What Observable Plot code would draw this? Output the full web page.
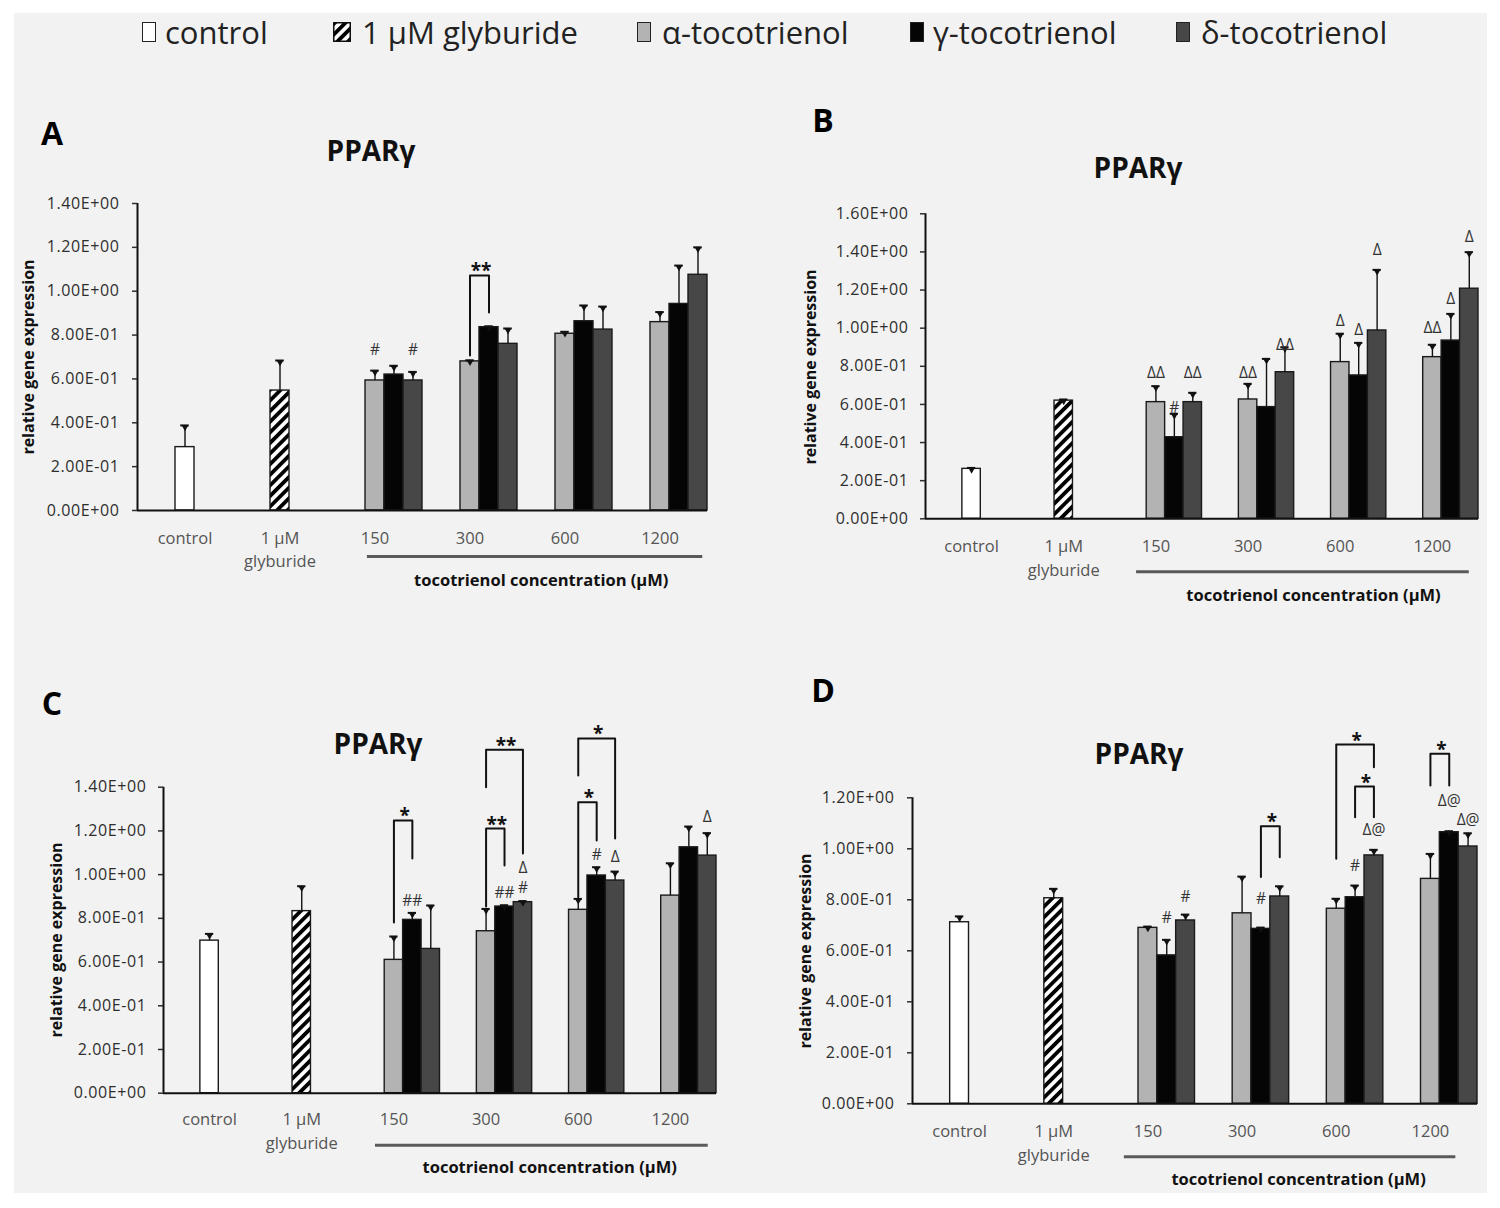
<!DOCTYPE html>
<html><head><meta charset="utf-8">
<script src="https://cdn.jsdelivr.net/npm/d3@7"></script>
<script src="https://cdn.jsdelivr.net/npm/@observablehq/plot@0.6"></script>
<style>
body{margin:0;background:#fff;width:1500px;height:1208px;position:relative;overflow:hidden;font-family:"Open Sans",sans-serif;}
#bg{position:absolute;left:14px;top:13px;width:1473px;height:1180px;background:#f2f2f2;}
.abs{position:absolute;white-space:nowrap;}
.letter{font-weight:700;font-size:32px;color:#000;transform:translate(-50%,-50%);line-height:1;}
.title{font-weight:700;font-size:28px;color:#111;transform:translate(-50%,-50%);line-height:1;}
.ylab{font-weight:700;font-size:16px;color:#111;transform:translate(-50%,-50%) rotate(-90deg);line-height:1;}
.legtext{font-size:31px;color:#222;line-height:40px;top:12px;}
.sw{top:22px;width:14px;height:20px;box-sizing:border-box;border:1.5px solid #222;}
[aria-label="y-axis tick label"] text{letter-spacing:0.6px;}
[aria-label="bracket label"] text{letter-spacing:3px;}
</style></head>
<body>
<div id="bg"></div>
<svg width="0" height="0" style="position:absolute;left:0;top:0">
 <defs>
  <pattern id="hatch" patternUnits="userSpaceOnUse" width="7.5" height="7.5" patternTransform="rotate(45)">
   <rect width="7.5" height="7.5" fill="#fff"></rect><rect width="3.8" height="7.5" fill="#000"></rect>
  </pattern>
 </defs>
</svg>
<div id="root"></div>
<script>
// ---------- shared categories ----------
const categories = ["control", "1 µM\nglyburide", "150", "300", "600", "1200"];
const concentrations = ["150", "300", "600", "1200"];
const legendLabels = ["control", "1 µM glyburide", "α-tocotrienol", "γ-tocotrienol", "δ-tocotrienol"];
const axisTitle = "tocotrienol concentration (µM)";
const yTitle = "relative gene expression";
const panelTitle = "PPARγ";

// ---------- Panel A ----------
const A_ticks = [0, 0.2, 0.4, 0.6, 0.8, 1.0, 1.2, 1.4];
const A_control = [0.289, 0.099];      // mean, error
const A_glyburide = [0.547, 0.137];
const A_alpha = [0.593, 0.680, 0.806, 0.859];
const A_alphaErr = [0.045, 0.005, 0.009, 0.046];
const A_gamma = [0.620, 0.836, 0.863, 0.942];
const A_gammaErr = [0.040, 0.004, 0.072, 0.175];
const A_delta = [0.593, 0.760, 0.825, 1.075];
const A_deltaErr = [0.039, 0.070, 0.105, 0.125];
const A_notes = [["150", "α", 0.73, "#"], ["150", "δ", 0.73, "#"]];
const A_brackets = [["300", "α", "γ", 1.072, 0.707, 0.903, "**"]];

// ---------- Panel B ----------
const B_ticks = [0, 0.2, 0.4, 0.6, 0.8, 1.0, 1.2, 1.4, 1.6];
const B_control = [0.262, 0.005];
const B_glyburide = [0.620, 0.006];
const B_alpha = [0.612, 0.626, 0.822, 0.848];
const B_alphaErr = [0.084, 0.082, 0.149, 0.065];
const B_gamma = [0.428, 0.586, 0.752, 0.935];
const B_gammaErr = [0.123, 0.253, 0.171, 0.140];
const B_delta = [0.612, 0.769, 0.988, 1.207];
const B_deltaErr = [0.049, 0.131, 0.318, 0.192];
const B_notes = [
  ["150", "α", 0.763, "ΔΔ"], ["150", "γ", 0.58, "#"], ["150", "δ", 0.763, "ΔΔ"],
  ["300", "α", 0.763, "ΔΔ"], ["300", "δ", 0.91, "ΔΔ"],
  ["600", "α", 1.04, "Δ"], ["600", "γ", 0.988, "Δ"], ["600", "δ", 1.408, "Δ"],
  ["1200", "α", 0.999, "ΔΔ"], ["1200", "γ", 1.151, "Δ"], ["1200", "δ", 1.477, "Δ"]
];
const B_brackets = [];

// ---------- Panel C ----------
const C_ticks = [0, 0.2, 0.4, 0.6, 0.8, 1.0, 1.2, 1.4];
const C_control = [0.698, 0.031];
const C_glyburide = [0.833, 0.114];
const C_alpha = [0.610, 0.741, 0.839, 0.904];
const C_alphaErr = [0.107, 0.102, 0.050, 0.148];
const C_gamma = [0.793, 0.854, 0.996, 1.125];
const C_gammaErr = [0.032, 0.006, 0.038, 0.095];
const C_delta = [0.660, 0.874, 0.973, 1.087];
const C_deltaErr = [0.199, 0.005, 0.041, 0.103];
const C_notes = [
  ["150", "γ", 0.881, "##"],
  ["300", "γ", 0.914, "##"], ["300", "δ", 0.937, "#"], ["300", "δ", 1.028, "Δ"],
  ["600", "γ", 1.088, "#"], ["600", "δ", 1.080, "Δ"],
  ["1200", "δ", 1.263, "Δ"]
];
const C_brackets = [
  ["150", "α", "γ", 1.248, 0.781, 1.074, "*"],
  ["300", "α", "γ", 1.211, 0.854, 1.042, "**"],
  ["300", "α", "δ", 1.571, 1.400, 1.097, "**"],
  ["600", "α", "γ", 1.331, 0.897, 1.156, "*"],
  ["600", "α", "δ", 1.623, 1.453, 1.165, "*"]
];

// ---------- Panel D ----------
const D_ticks = [0, 0.2, 0.4, 0.6, 0.8, 1.0, 1.2];
const D_control = [0.712, 0.023];
const D_glyburide = [0.806, 0.037];
const D_alpha = [0.690, 0.747, 0.765, 0.882];
const D_alphaErr = [0.005, 0.144, 0.039, 0.098];
const D_gamma = [0.582, 0.686, 0.810, 1.065];
const D_gammaErr = [0.061, 0.005, 0.046, 0.004];
const D_delta = [0.719, 0.813, 0.974, 1.009];
const D_deltaErr = [0.023, 0.040, 0.022, 0.052];
const D_notes = [
  ["150", "γ", 0.727, "#"], ["150", "δ", 0.81, "#"],
  ["300", "γ", 0.804, "#"],
  ["600", "γ", 0.934, "#"], ["600", "δ", 1.072, "Δ@"],
  ["1200", "γ", 1.189, "Δ@"], ["1200", "δ", 1.111, "Δ@"]
];
const D_brackets = [
  ["300", "γ", "δ", 1.088, 0.889, 0.967, "*"],
  ["600", "α", "δ", 1.409, 0.961, 1.320, "*"],
  ["600", "γ", "δ", 1.244, 1.124, 1.124, "*"],
  ["1200", "α", "γ", 1.373, 1.248, 1.248, "*"]
];

// ---------- styling ----------
const seriesOffset = {"α": 0, "γ": 0.2, "δ": 0.4};
const barWidth = 0.2;
const fills = {control: "#ffffff", glyb: "url(#hatch)", "α": "#b3b3b3", "γ": "#050505", "δ": "#474747"};
const fmt = d => {
  const [m, e] = d.toExponential(2).split("e");
  return m + "E" + (+e < 0 ? "-" : "+") + String(Math.abs(+e)).padStart(2, "0");
};

function drawPanel(c) {
  const bars = [
    {x: 0, y: c.control[0], e: c.control[1], k: "control"},
    {x: 1, y: c.glyb[0], e: c.glyb[1], k: "glyb"}
  ];
  concentrations.forEach((_, i) => {
    bars.push({x: 2 + i + seriesOffset["α"], y: c.alpha[i], e: c.alphaErr[i], k: "α"});
    bars.push({x: 2 + i + seriesOffset["γ"], y: c.gamma[i], e: c.gammaErr[i], k: "γ"});
    bars.push({x: 2 + i + seriesOffset["δ"], y: c.delta[i], e: c.deltaErr[i], k: "δ"});
  });
  const xOf = (conc, s) => 2 + concentrations.indexOf(conc) + seriesOffset[s];
  const brPts = c.brackets.flatMap((b, j) => {
    const xa = xOf(b[0], b[1]), xb = xOf(b[0], b[2]);
    return [{x: xa, y: b[4], z: j}, {x: xa, y: b[3], z: j}, {x: xb, y: b[3], z: j}, {x: xb, y: b[5], z: j}];
  });
  const marks = [];
  for (const k of Object.keys(fills)) {
    marks.push(Plot.rectY(bars.filter(d => d.k === k), {
      x1: d => d.x - barWidth / 2, x2: d => d.x + barWidth / 2, y1: 0, y2: "y",
      fill: fills[k], stroke: "#1a1a1a", strokeWidth: 1.4
    }));
  }
  marks.push(
    Plot.ruleX(bars, {x: "x", y1: "y", y2: d => d.y + d.e, stroke: "#111", strokeWidth: 1.4}),
    Plot.ruleY(bars, {y: d => d.y + d.e, x1: d => d.x - 0.045, x2: d => d.x + 0.045, stroke: "#111", strokeWidth: 2}),
    Plot.dot(bars, {x: "x", y: d => d.y + d.e, symbol: "triangle", rotate: 180, r: 2.4, fill: "#111", dy: 2}),
    Plot.ruleY([0], {stroke: "#111", strokeWidth: 2}),
    Plot.ruleX([-0.5], {stroke: "#111", strokeWidth: 2}),
    Plot.axisY(c.ticks, {tickFormat: fmt, tickSize: 5, tickPadding: c.tickPad, fontSize: 16, color: "#2e2e2e", strokeWidth: 1.5, label: null}),
    Plot.text(categories.map((_, i) => i), {
      x: d => d, frameAnchor: "bottom", text: d => categories[d], lineAnchor: "top",
      dy: c.catDy, fontSize: 16.5, fill: "#555", lineHeight: 1.45
    }),
    Plot.ruleY([0], {x1: c.line[0], x2: c.line[1], dy: c.line[2], stroke: "#5a5a5a", strokeWidth: 3}),
    Plot.text([axisTitle], {x: c.label[0], frameAnchor: "bottom", dy: c.label[1], text: d => d,
      fontSize: 16.5, fontWeight: "bold", fill: "#111"}),
    Plot.text(c.notes, {x: d => xOf(d[0], d[1]), y: d => d[2], text: d => d[3], fontSize: 15.5, fill: "#333"}),
    Plot.line(brPts, {x: "x", y: "y", z: "z", stroke: "#111", strokeWidth: 2}),
    Plot.text(c.brackets, {x: d => (xOf(d[0], d[1]) + xOf(d[0], d[2])) / 2, y: d => d[3], text: d => d[6],
      lineAnchor: "bottom", dy: 2, dx: 1.5, fontSize: 19, fontWeight: "bold", fill: "#111", ariaLabel: "bracket label"})
  );
  const svg = Plot.plot({
    width: c.w, height: c.h,
    marginLeft: c.mL, marginRight: c.mR, marginTop: c.mT, marginBottom: c.mB,
    x: {type: "linear", domain: [-0.5, 5.5], axis: null},
    y: {domain: [0, c.yMax], axis: null},
    style: {background: "transparent", overflow: "visible", fontFamily: "'Open Sans', sans-serif"},
    marks
  });
  svg.style.position = "absolute";
  svg.style.left = c.left + "px";
  svg.style.top = c.top + "px";
  svg.style.maxWidth = "none";
  document.getElementById("root").appendChild(svg);
}

drawPanel({left: 0, top: 180, w: 740, h: 440, mL: 137, mR: 33, mT: 23, mB: 110, yMax: 1.4, ticks: A_ticks, tickPad: 13,
  control: A_control, glyb: A_glyburide, alpha: A_alpha, alphaErr: A_alphaErr, gamma: A_gamma, gammaErr: A_gammaErr,
  delta: A_delta, deltaErr: A_deltaErr, notes: A_notes, brackets: A_brackets, catDy: 16, line: [1.92, 5.45, 46], label: [3.75, 75]});
drawPanel({left: 760, top: 180, w: 740, h: 450, mL: 165, mR: 22, mT: 33.3, mB: 111.7, yMax: 1.6, ticks: B_ticks, tickPad: 12,
  control: B_control, glyb: B_glyburide, alpha: B_alpha, alphaErr: B_alphaErr, gamma: B_gamma, gammaErr: B_gammaErr,
  delta: B_delta, deltaErr: B_deltaErr, notes: B_notes, brackets: B_brackets, catDy: 16, line: [1.79, 5.40, 53], label: [3.71, 82]});
drawPanel({left: 0, top: 700, w: 740, h: 500, mL: 163, mR: 24, mT: 86.7, mB: 107.3, yMax: 1.4, ticks: C_ticks, tickPad: 12,
  control: C_control, glyb: C_glyburide, alpha: C_alpha, alphaErr: C_alphaErr, gamma: C_gamma, gammaErr: C_gammaErr,
  delta: C_delta, deltaErr: C_deltaErr, notes: C_notes, brackets: C_brackets, catDy: 15, line: [1.80, 5.41, 52], label: [3.69, 80]});
drawPanel({left: 760, top: 700, w: 740, h: 500, mL: 152, mR: 23, mT: 97.3, mB: 96.7, yMax: 1.2, ticks: D_ticks, tickPad: 13,
  control: D_control, glyb: D_glyburide, alpha: D_alpha, alphaErr: D_alphaErr, gamma: D_gamma, gammaErr: D_gammaErr,
  delta: D_delta, deltaErr: D_deltaErr, notes: D_notes, brackets: D_brackets, catDy: 16, line: [1.75, 5.27, 53], label: [3.60, 81]});

// ---------- HTML text: letters, titles, y labels, legend ----------
const root = document.getElementById("root");
function addDiv(cls, text, x, y) {
  const d = document.createElement("div");
  d.className = "abs " + cls;
  d.textContent = text;
  d.style.left = x + "px"; d.style.top = y + "px";
  root.appendChild(d);
  return d;
}
const panelLetters = [["A", 52, 133], ["B", 823, 120], ["C", 52, 703], ["D", 823, 690]];
const titlePos = [[371, 150], [1138, 167], [378, 743], [1139, 753]];
const yLabelPos = [[28, 357], [810, 367], [56, 940], [805, 951]];
panelLetters.forEach(([t, x, y]) => addDiv("letter", t, x, y));
titlePos.forEach(([x, y]) => addDiv("title", panelTitle, x, y));
yLabelPos.forEach(([x, y]) => addDiv("ylab", yTitle, x, y));

const legendTextX = [165, 362, 662, 933, 1201];
const legendSwatchX = [142, 333, 637, 910, 1176];
const legendFills = [fills.control, fills.glyb, fills["α"], fills["γ"], fills["δ"]];
legendLabels.forEach((t, i) => {
  addDiv("legtext", t, legendTextX[i], 12);
  if (i === 1) {
    const ns = "http://www.w3.org/2000/svg";
    const s = document.createElementNS(ns, "svg");
    s.setAttribute("width", 18); s.setAttribute("height", 20);
    s.style.position = "absolute"; s.style.left = legendSwatchX[i] + "px"; s.style.top = "22px";
    const r = document.createElementNS(ns, "rect");
    r.setAttribute("x", 0.75); r.setAttribute("y", 0.75); r.setAttribute("width", 16.5); r.setAttribute("height", 18.5);
    r.setAttribute("fill", "url(#hatch)"); r.setAttribute("stroke", "#111"); r.setAttribute("stroke-width", 1.5);
    s.appendChild(r);
    root.appendChild(s);
  } else {
    const d = addDiv("sw", "", legendSwatchX[i], 22);
    d.style.background = legendFills[i];
    d.style.top = "22px";
  }
});
</script>
</body></html>
